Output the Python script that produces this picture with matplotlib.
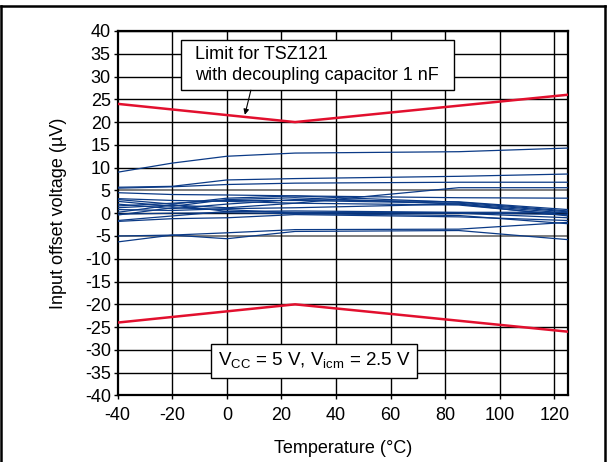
import numpy as np
import matplotlib
matplotlib.use("Agg")
import matplotlib.pyplot as plt
from matplotlib.lines import Line2D
from matplotlib.patches import Rectangle

plt.rcParams['font.family'] = ['Liberation Sans', 'DejaVu Sans']
plt.rcParams['axes.unicode_minus'] = False

# temperatures where the samples were measured
temps = [-40, -20, 0, 25, 85, 125]

# offset voltage of each sample part (uV)
samples = [
    [9.0, 11.0, 12.5, 13.2, 13.5, 14.3],
    [5.7, 5.9, 7.3, 7.6, 8.1, 8.6],
    [5.5, 5.8, 6.3, 6.6, 6.8, 6.8],
    [4.5, 4.1, 4.0, 3.8, 3.4, 3.3],
    [3.2, 2.8, 2.6, 2.2, 5.6, 5.6],
    [3.0, 2.0, 3.3, 3.8, 2.4, 0.5],
    [2.6, 1.5, 3.0, 3.4, 2.0, 0.0],
    [2.0, 1.0, 2.0, 3.0, 2.5, 0.8],
    [1.6, 2.2, 2.8, 2.8, 2.2, 0.3],
    [1.2, 1.8, 1.2, 2.2, 1.8, -0.4],
    [0.8, 0.6, 1.0, 1.2, 2.0, -0.6],
    [0.2, 1.8, 0.4, 0.2, 0.1, -0.3],
    [-0.4, 1.2, 0.8, 0.0, 0.0, -1.0],
    [-1.6, -0.6, 0.4, 0.5, 0.2, 0.2],
    [-1.8, -1.2, -1.0, -0.3, -0.8, -1.6],
    [-0.2, 0.0, 0.1, -0.1, -0.5, -2.3],
    [-5.0, -4.8, -4.3, -3.6, -3.5, -2.0],
    [-6.3, -4.8, -5.6, -4.0, -3.8, -5.8],
]

# TSZ121 limit with 1 nF decoupling
limit_t = [-40, 25, 125]
limit_hi = [24, 20, 26]
limit_lo = [-24, -20, -26]

fig = plt.figure(figsize=(6.10, 4.62), dpi=100)
ax = fig.add_axes([0.193, 0.144, 0.738, 0.789])

for yv in np.arange(-40, 41, 5):
    c = '0.45' if abs(yv) == 5 else 'black'
    ax.axhline(yv, color=c, lw=1.3 if abs(yv) == 5 else 1.0, zorder=1)
for xv in np.arange(-20, 121, 20):
    ax.axvline(xv, color='black', lw=1.0, zorder=1)

for s in samples:
    ax.plot(temps, s, color='#0b3a86', lw=0.9, zorder=3)

ax.plot(limit_t, limit_hi, color='#e2102e', lw=1.8, zorder=4)
ax.plot(limit_t, limit_lo, color='#e2102e', lw=1.8, zorder=4)

ax.set_xlim(-40, 125)
ax.set_ylim(-40, 40)
ax.set_xticks(np.arange(-40, 121, 20))
ax.set_yticks(np.arange(-40, 41, 5))
ax.tick_params(axis='both', labelsize=13, length=3, width=1, direction='out')
ax.tick_params(axis='x', pad=5)
ax.tick_params(axis='y', pad=2)
for sp in ax.spines.values():
    sp.set_linewidth(1.6)

ax.set_xlabel('Temperature (°C)', fontsize=13, labelpad=12)
ax.set_ylabel('Input offset voltage (µV)', fontsize=13, labelpad=13)

# limit label box with arrow
ax.add_patch(Rectangle((-16.8, 27.0), 100.0, 11.0, fc='white', ec='black',
                       lw=1.0, zorder=6))
ax.text(-11.8, 32.5, 'Limit for TSZ121\nwith decoupling capacitor 1 nF',
        fontsize=13, va='center', ha='left', linespacing=1.3, zorder=7)
ax.annotate('', xy=(6.6, 21.6), xytext=(8.8, 27.0),
            arrowprops=dict(arrowstyle='-|>', color='black', lw=0.8,
                            mutation_scale=8, shrinkA=0, shrinkB=0), zorder=6)

ax.text(32, -32.4, r'V$_{\mathregular{CC}}$ = 5 V, V$_{\mathregular{icm}}$ = 2.5 V',
        fontsize=13.5, ha='center', va='center',
        bbox=dict(boxstyle='square,pad=0.35', fc='white', ec='black', lw=1.0),
        zorder=6)

# outer frame of the figure
for xs, ys in [([0.002, 0.002], [0, 0.987]), ([0.002, 0.992], [0.987, 0.987]),
               ([0.992, 0.992], [0, 0.987])]:
    fig.add_artist(Line2D(xs, ys, transform=fig.transFigure, color='black', lw=1.8))

fig.savefig('out.png', dpi=100)
